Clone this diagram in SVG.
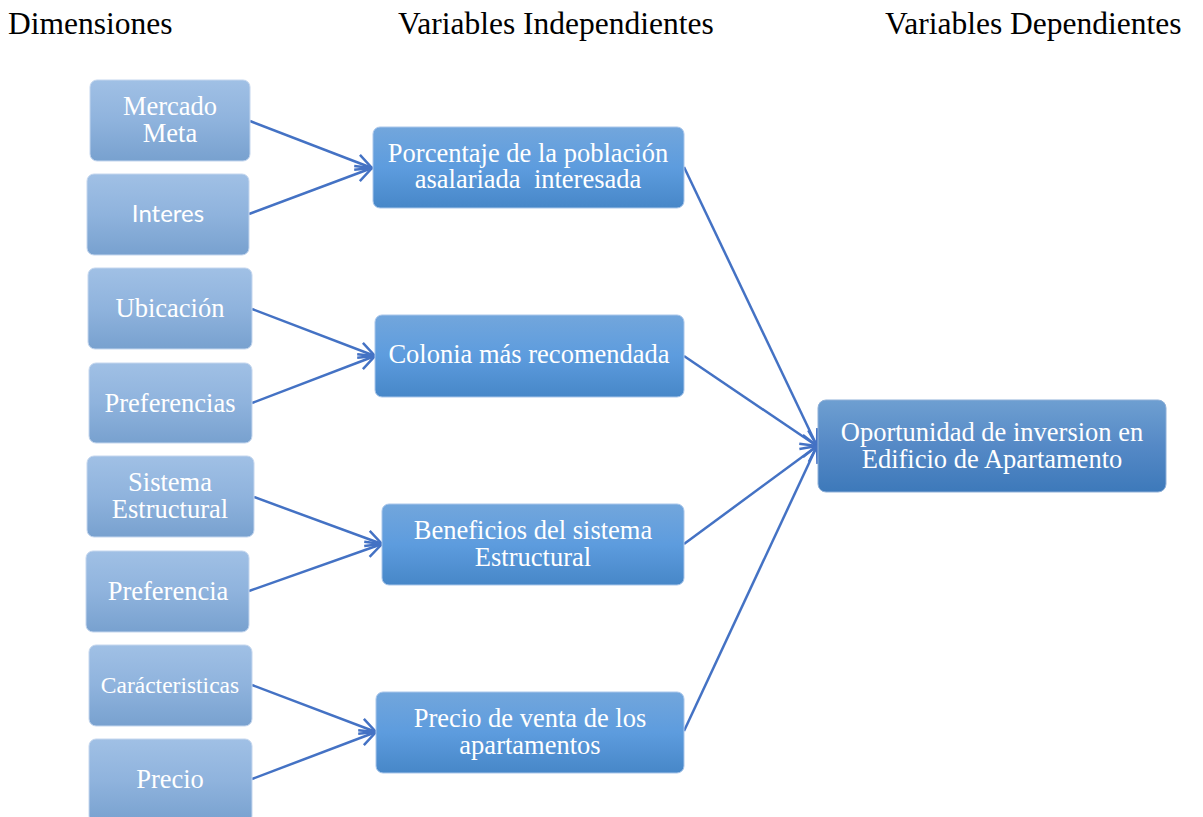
<svg xmlns="http://www.w3.org/2000/svg" width="1203" height="817" viewBox="0 0 1203 817">
  <defs>
    <linearGradient id="gLeft" x1="0" y1="0" x2="0" y2="1">
      <stop offset="0" stop-color="#a0c0e5"/>
      <stop offset="0.5" stop-color="#8fb3dd"/>
      <stop offset="1" stop-color="#78a1cf"/>
    </linearGradient>
    <linearGradient id="gMid" x1="0" y1="0" x2="0" y2="1">
      <stop offset="0" stop-color="#72a6dc"/>
      <stop offset="0.5" stop-color="#5d9cde"/>
      <stop offset="1" stop-color="#4787c8"/>
    </linearGradient>
    <linearGradient id="gRight" x1="0" y1="0" x2="0" y2="1">
      <stop offset="0" stop-color="#6e9fd1"/>
      <stop offset="0.5" stop-color="#5589c6"/>
      <stop offset="1" stop-color="#3d79ba"/>
    </linearGradient>
    <marker id="arrow" viewBox="0 0 20 20" refX="18" refY="10" markerWidth="20" markerHeight="20" markerUnits="userSpaceOnUse" orient="auto">
      <path d="M2,2 L18,10 L2,18" fill="none" stroke="#4472c4" stroke-width="2.5" stroke-linejoin="miter"/>
    </marker>
    <style>
      .hdr { font-family: "Liberation Serif", "Times New Roman", serif; font-size: 31.5px; fill: #000; }
      .lbl { font-family: "Liberation Serif", "Times New Roman", serif; font-size: 26.5px; fill: #fff; text-anchor: middle; }
      .sans { font-family: Lato, "Liberation Sans", sans-serif; font-size: 24px; }
      .small { font-size: 23.5px; }
      .left { fill: url(#gLeft); stroke: #c4d6ee; stroke-width: 1; }
      .mid { fill: url(#gMid); stroke: #a9c6ea; stroke-width: 1; }
      .right { fill: url(#gRight); stroke: #8fb0d8; stroke-width: 1; }
      .conn { fill: none; stroke: #4472c4; stroke-width: 2.5; marker-end: url(#arrow); }
    </style>
  </defs>

  <rect width="1203" height="817" fill="#fff"/>

  <!-- column headings -->
  <g id="headings">
    <text class="hdr" x="8" y="34">Dimensiones</text>
    <text class="hdr" x="398" y="34">Variables Independientes</text>
    <text class="hdr" x="885" y="34">Variables Dependientes</text>
  </g>

  <!-- connectors -->
  <g id="connectors">
    <line class="conn" x1="250" y1="121" x2="372" y2="168"/>
    <line class="conn" x1="249" y1="214" x2="372" y2="168"/>
    <line class="conn" x1="252" y1="309" x2="375" y2="356"/>
    <line class="conn" x1="252" y1="403" x2="375" y2="356"/>
    <line class="conn" x1="254" y1="497" x2="382" y2="544"/>
    <line class="conn" x1="249" y1="591" x2="382" y2="544"/>
    <line class="conn" x1="252" y1="685" x2="376" y2="732"/>
    <line class="conn" x1="252" y1="779" x2="376" y2="732"/>
    <line class="conn" x1="684" y1="167" x2="817" y2="446"/>
    <line class="conn" x1="684" y1="356" x2="817" y2="446"/>
    <line class="conn" x1="684" y1="544" x2="817" y2="446"/>
    <line class="conn" x1="684" y1="731" x2="817" y2="446"/>
  </g>

  <!-- dimensions -->
  <g id="mercado-meta">
    <rect class="left" x="90" y="80" width="160" height="81" rx="7"/>
    <text class="lbl" x="170" y="115">Mercado</text>
    <text class="lbl" x="170" y="142">Meta</text>
  </g>
  <g id="interes">
    <rect class="left" x="87" y="174" width="162" height="81" rx="7"/>
    <text class="lbl sans" x="168" y="222">Interes</text>
  </g>
  <g id="ubicacion">
    <rect class="left" x="88" y="268" width="164" height="81" rx="7"/>
    <text class="lbl" x="170" y="317">Ubicación</text>
  </g>
  <g id="preferencias">
    <rect class="left" x="89" y="363" width="163" height="80" rx="7"/>
    <text class="lbl" x="170" y="412">Preferencias</text>
  </g>
  <g id="sistema-estructural">
    <rect class="left" x="87" y="456" width="167" height="81" rx="7"/>
    <text class="lbl" x="170" y="491">Sistema</text>
    <text class="lbl" x="170" y="518">Estructural</text>
  </g>
  <g id="preferencia">
    <rect class="left" x="86" y="551" width="163" height="81" rx="7"/>
    <text class="lbl" x="168" y="600">Preferencia</text>
  </g>
  <g id="caracteristicas">
    <rect class="left" x="89" y="645" width="163" height="81" rx="7"/>
    <text class="lbl small" x="170" y="693">Carácteristicas</text>
  </g>
  <g id="precio">
    <rect class="left" x="89" y="739" width="163" height="84" rx="7"/>
    <text class="lbl" x="170" y="788">Precio</text>
  </g>

  <!-- independent variables -->
  <g id="porcentaje">
    <rect class="mid" x="373" y="127" width="311" height="81" rx="7"/>
    <text class="lbl" x="528" y="162">Porcentaje de la población</text>
    <text class="lbl" x="528" y="188">asalariada&#160; interesada</text>
  </g>
  <g id="colonia">
    <rect class="mid" x="375" y="315" width="309" height="82" rx="7"/>
    <text class="lbl" x="529" y="363">Colonia más recomendada</text>
  </g>
  <g id="beneficios">
    <rect class="mid" x="382" y="504" width="302" height="81" rx="7"/>
    <text class="lbl" x="533" y="539">Beneficios del sistema</text>
    <text class="lbl" x="533" y="566">Estructural</text>
  </g>
  <g id="precio-venta">
    <rect class="mid" x="376" y="692" width="308" height="81" rx="7"/>
    <text class="lbl" x="530" y="727">Precio de venta de los</text>
    <text class="lbl" x="530" y="754">apartamentos</text>
  </g>

  <!-- dependent variable -->
  <g id="oportunidad">
    <rect class="right" x="818" y="400" width="348" height="92" rx="8"/>
    <text class="lbl" x="992" y="441">Oportunidad de inversion en</text>
    <text class="lbl" x="992" y="468">Edificio de Apartamento</text>
  </g>
</svg>
